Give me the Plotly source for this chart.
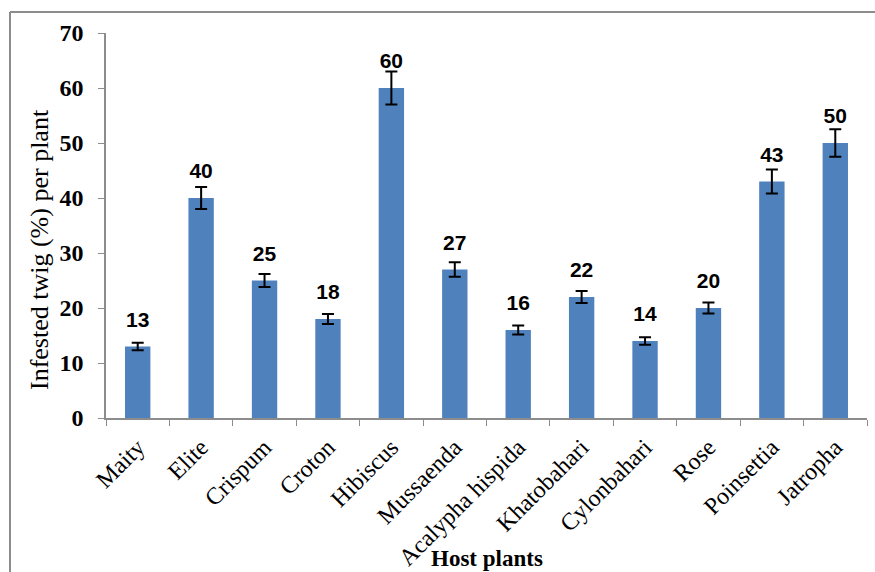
import plotly.graph_objects as go

# host plants and infested twig (%) per plant
plants = ['Maity', 'Elite', 'Crispum', 'Croton', 'Hibiscus', 'Mussaenda',
          'Acalypha hispida', 'Khatobahari', 'Cylonbahari', 'Rose',
          'Poinsettia', 'Jatropha']
infested = [13, 40, 25, 18, 60, 27, 16, 22, 14, 20, 43, 50]
errors = [0.7, 2.0, 1.2, 0.9, 3.0, 1.3, 0.8, 1.1, 0.7, 1.0, 2.2, 2.5]

W, H = 875, 572
L, R, T, B = 106, 8, 33, 154
pw, ph = W - L - R, H - T - B

fig = go.Figure()

fig.add_trace(go.Bar(
    x=plants, y=infested,
    marker=dict(color='#4f81bd', line=dict(width=0)),
    error_y=dict(type='data', array=errors, visible=True,
                 color='black', thickness=2, width=6),
    hoverinfo='x+y',
))

# value labels a fixed distance above the bar tops (invisible marker pads the text)
fig.add_trace(go.Scatter(
    x=plants, y=infested,
    mode='markers+text', text=[str(v) for v in infested],
    marker=dict(size=22, opacity=0),
    textposition='top center',
    textfont=dict(family='Liberation Sans, Arial', size=21, color='black', weight='bold'),
    hoverinfo='skip',
))

serif = 'Liberation Serif, Times New Roman'
fig.update_layout(
    width=W, height=H,
    margin=dict(l=L, r=R, t=T, b=B, autoexpand=False),
    paper_bgcolor='white', plot_bgcolor='white',
    showlegend=False,
    bargap=0.6,
    xaxis=dict(
        type='category', automargin=False, range=[-0.5, len(plants) - 0.5],
        showline=True, linecolor='#8c8c8c', linewidth=1.5,
        ticks='outside', tickson='boundaries', ticklen=6, tickcolor='#8c8c8c',
        tickangle=-45, ticklabelstandoff=4,
        tickfont=dict(family=serif, size=24, color='black'),
        showgrid=False,
    ),
    yaxis=dict(
        range=[0, 70], dtick=10, automargin=False,
        showline=True, linecolor='#8c8c8c', linewidth=1.5,
        ticks='outside', ticklen=6, tickcolor='#8c8c8c', ticklabelstandoff=10,
        tickfont=dict(family=serif, size=24, color='black', weight='bold'),
        showgrid=False, zeroline=False,
    ),
    annotations=[
        dict(text='Host plants', xref='paper', yref='paper',
             x=(487 - L) / pw, y=-(558 - T - ph) / ph,
             showarrow=False, xanchor='center', yanchor='middle',
             font=dict(family=serif, size=23, color='black', weight='bold')),
        dict(text='Infested twig (%) per plant', xref='paper', yref='paper',
             x=(39 - L) / pw, y=(T + ph - 250) / ph, textangle=-90,
             showarrow=False, xanchor='center', yanchor='middle',
             font=dict(family=serif, size=26, color='black')),
    ],
    shapes=[
        # outer frame: left and top edges
        dict(type='line', xref='paper', yref='paper',
             x0=(10 - L) / pw, x1=(10 - L) / pw,
             y0=-(H - T - ph) / ph, y1=(ph + T - 12) / ph,
             line=dict(color='#8c8c8c', width=2)),
        dict(type='line', xref='paper', yref='paper',
             x0=(10 - L) / pw, x1=(W - L) / pw,
             y0=(ph + T - 12) / ph, y1=(ph + T - 12) / ph,
             line=dict(color='#8c8c8c', width=2)),
    ],
)

fig.write_html('out.html', config={'displayModeBar': False},
               post_script="document.body.style.margin='0';")
